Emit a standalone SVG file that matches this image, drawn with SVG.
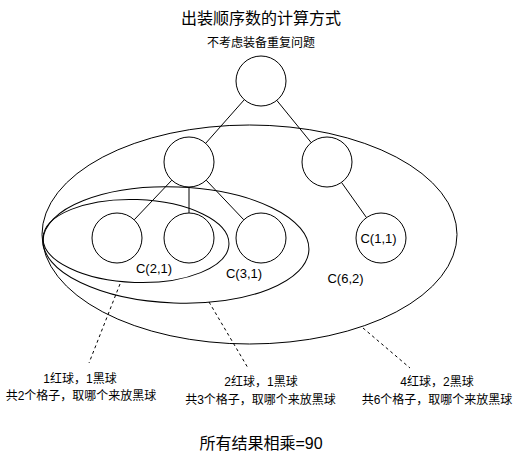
<svg xmlns="http://www.w3.org/2000/svg" width="518" height="458" viewBox="0 0 518 458">
<style>
.n{fill:#fff;stroke:#000;stroke-width:1}
.g{fill:none;stroke:#000;stroke-width:1}
.e{stroke:#000;stroke-width:1;fill:none}
.d{stroke:#000;stroke-width:1;stroke-dasharray:3 3;fill:none}
text{font-family:"Liberation Sans","Noto Sans CJK SC",sans-serif;fill:#000;text-anchor:middle}
.t12{font-size:12px}
.t13{font-size:13px}
.t16{font-size:16px}
</style>
<rect width="518" height="458" fill="#fff"/>
<text class="t16" x="261" y="24">出装顺序数的计算方式</text>
<text class="t12" x="261" y="47">不考虑装备重复问题</text>
<g id="groups">
<ellipse id="g-outer" class="g" cx="249.5" cy="234.5" rx="207.5" ry="109.5"/>
<ellipse id="g-c31" class="g" cx="176" cy="245" rx="133" ry="58" transform="rotate(2.1 176 245)"/>
<ellipse id="g-c21" class="g" cx="136" cy="241" rx="93" ry="41.5" transform="rotate(2 136 241)"/>
</g>
<g id="connectors">
<line class="e" x1="244.4" y1="99.6" x2="205.6" y2="143.4"/>
<line class="e" x1="276.8" y1="100.4" x2="311.2" y2="142.6"/>
<line class="e" x1="171.8" y1="180.2" x2="134.2" y2="219.8"/>
<line class="e" x1="189" y1="187" x2="189" y2="213"/>
<line class="e" x1="206.2" y1="180.2" x2="243.8" y2="219.8"/>
<line class="e" x1="341.5" y1="182.4" x2="366.5" y2="217.6"/>
<line class="d" x1="120" y1="284" x2="89" y2="363"/>
<line class="d" x1="209" y1="302" x2="248" y2="368"/>
<line class="d" x1="363" y1="328" x2="410" y2="368"/>
</g>
<g id="root"><circle class="n" cx="261" cy="81" r="25"/></g>
<g id="midL"><circle class="n" cx="189" cy="162" r="25"/></g>
<g id="midR"><circle class="n" cx="327" cy="162" r="25"/></g>
<g id="leaf1"><circle class="n" cx="117" cy="238" r="25"/></g>
<g id="leaf2"><circle class="n" cx="189" cy="238" r="25"/></g>
<g id="leaf3"><circle class="n" cx="261" cy="238" r="25"/></g>
<g id="leaf4"><circle class="n" cx="381" cy="238" r="25"/><text class="t13" x="378.5" y="243">C(1,1)</text></g>
<text class="t13" x="154" y="273">C(2,1)</text>
<text class="t13" x="244" y="278">C(3,1)</text>
<text class="t13" x="345.5" y="283">C(6,2)</text>
<g id="note1"><text class="t12" x="80" y="382.5">1红球，1黑球</text><text class="t12" x="81" y="400">共2个格子，取哪个来放黑球</text></g>
<g id="note2"><text class="t12" x="261" y="385.5">2红球，1黑球</text><text class="t12" x="260.5" y="403.5">共3个格子，取哪个来放黑球</text></g>
<g id="note3"><text class="t12" x="437" y="385.5">4红球，2黑球</text><text class="t12" x="437" y="403.5">共6个格子，取哪个来放黑球</text></g>
<text class="t16" x="261" y="449">所有结果相乘=90</text>
</svg>
